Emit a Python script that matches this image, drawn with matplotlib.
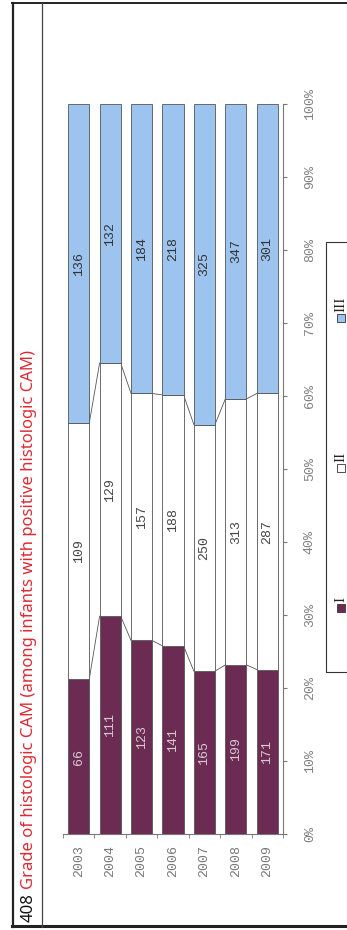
import matplotlib
matplotlib.use("Agg")
import matplotlib.pyplot as plt
from matplotlib.lines import Line2D
from matplotlib.patches import Rectangle
import numpy as np

years = ["2003", "2004", "2005", "2006", "2007", "2008", "2009"]
grade_i = [66, 111, 123, 141, 165, 199, 171]
grade_ii = [109, 129, 157, 188, 250, 313, 287]
grade_iii = [136, 132, 184, 218, 325, 347, 301]
series_names = ["I", "II", "III"]
pct_ticks = [0, 10, 20, 30, 40, 50, 60, 70, 80, 90, 100]

C_I, C_II, C_III = "#6B2B52", "#FFFFFF", "#9DC3EF"
W, H = 347, 930
MONO = "Liberation Mono"

fig = plt.figure(figsize=(W / 100, H / 100), dpi=100)


def px(x, y):
    return x / W, 1 - y / H


def hline(y, x0, x1, lw, col="#222222"):
    fig.add_artist(Line2D([x0 / W, x1 / W], [1 - y / H] * 2, lw=lw, color=col))


def vline(x, y0, y1, lw, col="#222222"):
    fig.add_artist(Line2D([x / W] * 2, [1 - y0 / H, 1 - y1 / H], lw=lw, color=col))


# page frame
hline(3, 12, W, 1.4)
hline(926, 12, W, 2.2)
vline(13, 3, 927, 1.6)
vline(42, 3, 927, 0.9, "#444444")

# chart
x0, x1, ytop, ybot = 63, 283, 104, 834
ax = fig.add_axes([x0 / W, 1 - ybot / H, (x1 - x0) / W, (ybot - ytop) / H])

cnt = np.array([grade_i, grade_ii, grade_iii], dtype=float)
pct = cnt / cnt.sum(axis=0) * 100
x = np.arange(len(years))
bw = 0.67
cols = [C_I, C_II, C_III]
txt_cols = ["#D9C9D1", "#444444", "#333333"]
bottom = np.zeros(len(years))
for k in range(3):
    ax.bar(x, pct[k], bw, bottom=bottom, color=cols[k], edgecolor="#555555",
           linewidth=0.6, zorder=2)
    for i in range(len(years)):
        ax.text(x[i], bottom[i] + pct[k][i] / 2, f"{int(cnt[k][i])}", rotation=90,
                ha="center", va="center", fontsize=9.5, color=txt_cols[k],
                family=MONO, zorder=4)
    bottom = bottom + pct[k]
    if k < 2:
        # series lines between bars
        for i in range(len(years) - 1):
            ax.plot([x[i] + bw / 2, x[i + 1] - bw / 2], [bottom[i], bottom[i + 1]],
                    color="#555555", lw=0.6, zorder=1)

ax.set_xlim(-0.5, len(years) - 0.5)
ax.set_ylim(0, 100)
for s in ("top", "left"):
    ax.spines[s].set_visible(False)
for s in ("bottom", "right"):
    ax.spines[s].set_color("#777777")
    ax.spines[s].set_linewidth(0.8)

ax.set_xticks(x)
ax.set_xticklabels(years, rotation=90, ha="center", va="top", fontsize=9.5,
                   color="#777777", family=MONO)
ax.set_xticks(np.arange(-0.5, len(years)), minor=True)
ax.tick_params(axis="x", which="major", length=0, pad=8)
ax.tick_params(axis="x", which="minor", length=3, color="#777777")

ax.yaxis.tick_right()
ax.set_yticks(pct_ticks)
ax.set_yticklabels([f"{v}%" for v in pct_ticks], fontsize=9.5, color="#808080",
                   family=MONO)
for lbl in ax.get_yticklabels():
    lbl.set_rotation(90)
    lbl.set_va("center")
    lbl.set_ha("left")
ax.tick_params(axis="y", length=3, color="#777777", pad=12)

# legend (rotated, drawn by hand)
fig.add_artist(Rectangle(px(326, 672), (W - 326 + 5) / W, (672 - 242) / H,
                         fill=False, edgecolor="#333333", lw=0.8))
leg_y = [608, 468, 318]
for name, col, ly in zip(series_names, cols, leg_y):
    fig.add_artist(Rectangle(px(337, ly + 4), 8 / W, 8 / H, facecolor=col,
                             edgecolor="#333333", lw=0.6))
    fig.text(*px(341, ly - 6), name, rotation=90, ha="center", va="bottom",
             fontsize=11, family="Liberation Serif", color="#222222")

# title (rotated)
fig.canvas.draw()
r = fig.canvas.get_renderer()
t1 = fig.text(*px(29, 922), "408", rotation=90, ha="center", va="bottom",
              fontsize=12, family="Noto Sans", color="#111111")
bb = t1.get_window_extent(r)
fig.text(29 / W, (bb.y1 + 4) / H, "Grade of histologic CAM (among infants with positive histologic CAM)",
         rotation=90, ha="center", va="bottom", fontsize=12, family="Noto Sans",
         color="#DD2A33")

fig.savefig("out.png", dpi=100)
